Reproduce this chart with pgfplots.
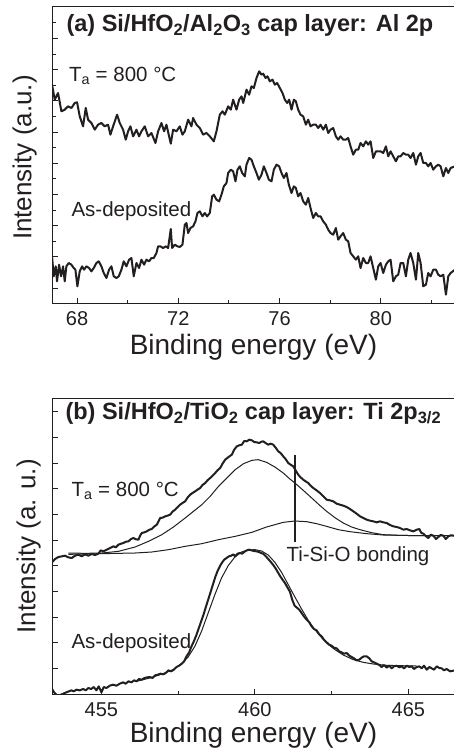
\documentclass[border=0pt]{standalone}
\usepackage{pgfplots}
\usepackage{pgfplotstable}
\pgfplotsset{compat=1.18}
\usepackage{fontspec}
\setmainfont{Liberation Sans}

\definecolor{ink}{HTML}{231F20}

% spectra (zx, zy = position on the 3x crop)
\pgfplotstableread[row sep=\\]{zx zy\\
157 255\\ 165 300\\ 175 280\\ 185 335\\ 195 330\\ 205 320\\ 215 325\\ 225 310\\ 232 308\\ 240 350\\ 250 380\\ 258 325\\ 265 360\\ 275 370\\ 285 390\\ 295 375\\ 305 370\\ 315 380\\ 325 375\\ 332 405\\ 340 380\\ 352 345\\ 360 370\\ 370 390\\ 378 420\\ 385 395\\ 392 380\\ 400 410\\ 410 390\\ 418 410\\ 425 395\\ 435 380\\ 445 410\\ 455 400\\ 467 430\\ 475 395\\ 485 370\\ 493 395\\ 500 375\\ 513 432\\ 520 390\\ 530 395\\ 540 380\\ 548 405\\ 555 395\\ 565 360\\ 575 380\\ 580 355\\ 590 375\\ 600 385\\ 610 405\\ 620 400\\ 630 410\\ 642 425\\ 650 395\\ 660 345\\ 668 335\\ 675 345\\ 685 320\\ 693 330\\ 700 300\\ 710 330\\ 718 300\\ 725 290\\ 730 310\\ 740 270\\ 748 285\\ 755 260\\ 762 265\\ 770 235\\ 778 215\\ 785 225\\ 790 222\\ 797 235\\ 803 230\\ 810 245\\ 818 240\\ 825 255\\ 832 250\\ 840 265\\ 848 280\\ 855 300\\ 862 310\\ 868 300\\ 875 330\\ 882 300\\ 888 305\\ 895 330\\ 902 345\\ 910 350\\ 918 375\\ 925 360\\ 932 380\\ 940 375\\ 948 375\\ 955 385\\ 962 375\\ 970 390\\ 978 375\\ 985 400\\ 992 390\\ 1000 385\\ 1008 410\\ 1015 420\\ 1022 410\\ 1030 420\\ 1038 420\\ 1045 415\\ 1052 440\\ 1060 465\\ 1068 450\\ 1075 450\\ 1082 430\\ 1090 440\\ 1098 425\\ 1105 435\\ 1112 425\\ 1120 475\\ 1128 455\\ 1135 455\\ 1142 455\\ 1150 460\\ 1158 440\\ 1165 470\\ 1172 455\\ 1180 470\\ 1188 485\\ 1195 470\\ 1202 470\\ 1210 460\\ 1218 465\\ 1225 465\\ 1232 475\\ 1240 460\\ 1248 495\\ 1255 470\\ 1262 460\\ 1270 490\\ 1278 490\\ 1285 500\\ 1292 490\\ 1300 510\\ 1308 500\\ 1315 495\\ 1322 500\\ 1330 530\\ 1338 505\\ 1345 520\\ 1352 505\\ 1365 500\\
}\aAnneal

\pgfplotstableread[row sep=\\]{zx zy\\
157 770\\ 162 830\\ 168 800\\ 172 845\\ 178 795\\ 184 830\\ 190 800\\ 195 845\\ 200 800\\ 207 790\\ 215 795\\ 222 805\\ 227 810\\ 233 860\\ 240 815\\ 247 800\\ 253 810\\ 260 800\\ 268 805\\ 275 815\\ 282 805\\ 290 790\\ 297 785\\ 305 800\\ 312 820\\ 320 835\\ 328 810\\ 335 800\\ 342 830\\ 350 835\\ 357 830\\ 365 810\\ 372 785\\ 380 800\\ 388 780\\ 395 775\\ 402 830\\ 410 790\\ 418 805\\ 425 780\\ 433 795\\ 440 780\\ 448 785\\ 455 775\\ 462 775\\ 470 760\\ 475 740\\ 482 740\\ 490 745\\ 498 740\\ 505 745\\ 513 688\\ 517 745\\ 525 735\\ 533 740\\ 540 742\\ 548 735\\ 555 675\\ 560 670\\ 565 700\\ 572 685\\ 580 680\\ 587 665\\ 593 640\\ 600 635\\ 608 650\\ 615 640\\ 622 650\\ 630 640\\ 637 590\\ 642 585\\ 650 600\\ 658 605\\ 665 585\\ 672 560\\ 680 550\\ 685 520\\ 693 510\\ 700 515\\ 707 545\\ 713 510\\ 720 500\\ 727 520\\ 735 530\\ 740 495\\ 748 475\\ 755 480\\ 762 500\\ 770 520\\ 777 540\\ 785 525\\ 792 500\\ 800 520\\ 807 540\\ 815 545\\ 822 510\\ 830 495\\ 838 500\\ 845 520\\ 852 535\\ 860 520\\ 867 555\\ 875 580\\ 882 560\\ 888 565\\ 895 590\\ 902 580\\ 910 605\\ 918 615\\ 925 595\\ 932 625\\ 940 655\\ 948 640\\ 955 650\\ 962 650\\ 970 665\\ 978 675\\ 985 690\\ 992 700\\ 1000 705\\ 1008 685\\ 1015 720\\ 1022 710\\ 1030 700\\ 1038 720\\ 1045 725\\ 1052 760\\ 1060 770\\ 1068 780\\ 1075 770\\ 1082 805\\ 1090 775\\ 1098 790\\ 1105 790\\ 1112 770\\ 1120 805\\ 1128 840\\ 1135 800\\ 1142 790\\ 1150 820\\ 1158 795\\ 1165 785\\ 1172 780\\ 1180 845\\ 1188 830\\ 1195 825\\ 1202 790\\ 1210 790\\ 1218 830\\ 1225 780\\ 1232 760\\ 1240 790\\ 1248 840\\ 1255 760\\ 1262 790\\ 1270 860\\ 1278 855\\ 1285 820\\ 1292 830\\ 1300 810\\ 1308 810\\ 1315 825\\ 1322 830\\ 1330 825\\ 1338 885\\ 1345 830\\ 1352 820\\ 1365 810\\
}\aDepo

\pgfplotstableread[row sep=\\]{zx zy\\
157 548\\ 166 538\\ 176 532\\ 186 530\\ 196 528\\ 206 533\\ 216 535\\ 226 528\\ 236 525\\ 246 530\\ 256 524\\ 266 528\\ 276 523\\ 286 526\\ 296 522\\ 303 512\\ 311 515\\ 321 510\\ 331 505\\ 341 500\\ 348 503\\ 356 495\\ 364 492\\ 371 490\\ 379 486\\ 386 485\\ 394 478\\ 401 475\\ 409 479\\ 416 480\\ 421 468\\ 426 460\\ 434 458\\ 441 455\\ 449 450\\ 456 448\\ 464 440\\ 471 435\\ 476 425\\ 481 415\\ 488 414\\ 496 410\\ 503 408\\ 511 405\\ 518 396\\ 526 390\\ 534 382\\ 541 375\\ 548 370\\ 556 365\\ 563 354\\ 571 345\\ 578 340\\ 586 335\\ 593 330\\ 601 325\\ 608 316\\ 616 310\\ 623 302\\ 631 295\\ 638 288\\ 646 280\\ 653 272\\ 661 265\\ 668 252\\ 676 240\\ 686 232\\ 696 225\\ 703 210\\ 711 200\\ 718 197\\ 726 195\\ 733 184\\ 741 185\\ 748 180\\ 756 182\\ 763 187\\ 770 188\\ 778 190\\ 785 186\\ 790 185\\ 797 190\\ 805 195\\ 812 192\\ 820 195\\ 828 205\\ 835 215\\ 842 220\\ 850 230\\ 857 238\\ 865 250\\ 872 255\\ 880 260\\ 887 272\\ 895 285\\ 902 293\\ 910 300\\ 917 305\\ 925 310\\ 932 318\\ 940 325\\ 950 332\\ 960 340\\ 970 350\\ 980 360\\ 990 362\\ 1000 365\\ 1010 372\\ 1020 375\\ 1030 378\\ 1040 382\\ 1050 388\\ 1060 395\\ 1070 402\\ 1080 410\\ 1090 415\\ 1100 420\\ 1110 423\\ 1120 425\\ 1130 428\\ 1140 425\\ 1150 428\\ 1160 430\\ 1170 436\\ 1180 440\\ 1190 442\\ 1200 445\\ 1210 450\\ 1220 448\\ 1230 452\\ 1240 455\\ 1250 450\\ 1258 448\\ 1264 460\\ 1270 462\\ 1278 470\\ 1285 475\\ 1292 465\\ 1300 468\\ 1308 478\\ 1315 472\\ 1322 466\\ 1330 468\\ 1337 478\\ 1345 470\\ 1352 467\\ 1365 468\\
}\bAnneal

\pgfplotstableread[row sep=\\]{zx zy\\
206 520\\ 256 521\\ 306 520\\ 356 515\\ 406 502\\ 446 485\\ 486 465\\ 521 442\\ 556 415\\ 581 395\\ 606 375\\ 631 350\\ 656 320\\ 681 295\\ 706 270\\ 731 252\\ 756 242\\ 775 240\\ 800 248\\ 825 262\\ 850 280\\ 870 298\\ 885 310\\ 910 332\\ 930 350\\ 955 373\\ 980 395\\ 1005 414\\ 1030 430\\ 1055 442\\ 1080 450\\ 1115 459\\ 1150 465\\ 1200 467\\ 1250 468\\ 1300 468\\ 1365 468\\
}\bMain

\pgfplotstableread[row sep=\\]{zx zy\\
206 524\\ 306 522\\ 406 520\\ 456 517\\ 506 510\\ 556 500\\ 606 492\\ 656 480\\ 706 470\\ 756 458\\ 800 442\\ 850 428\\ 885 424\\ 920 426\\ 950 432\\ 980 440\\ 1015 450\\ 1050 456\\ 1100 462\\ 1150 466\\ 1200 467\\ 1250 468\\ 1365 468\\
}\bTiSiO

\pgfplotstableread[row sep=\\]{zx zy\\
157 928\\ 163 938\\ 170 945\\ 178 948\\ 186 944\\ 195 940\\ 205 936\\ 215 932\\ 222 935\\ 230 930\\ 240 932\\ 250 928\\ 258 932\\ 266 925\\ 274 928\\ 282 922\\ 290 932\\ 297 920\\ 305 938\\ 312 922\\ 320 925\\ 330 918\\ 340 915\\ 350 918\\ 360 912\\ 370 908\\ 378 912\\ 386 905\\ 395 908\\ 403 902\\ 410 905\\ 418 898\\ 426 900\\ 434 895\\ 442 893\\ 450 892\\ 458 895\\ 466 887\\ 474 885\\ 482 882\\ 490 884\\ 498 880\\ 506 872\\ 514 875\\ 522 870\\ 530 862\\ 538 858\\ 546 852\\ 553 845\\ 560 830\\ 568 818\\ 575 800\\ 582 785\\ 589 768\\ 596 748\\ 604 725\\ 611 705\\ 618 682\\ 625 660\\ 632 638\\ 640 612\\ 647 590\\ 654 572\\ 660 560\\ 667 548\\ 673 540\\ 680 535\\ 687 530\\ 694 528\\ 700 524\\ 706 530\\ 713 522\\ 720 520\\ 727 522\\ 734 516\\ 741 512\\ 748 510\\ 755 512\\ 762 514\\ 770 515\\ 777 517\\ 784 520\\ 791 523\\ 798 530\\ 805 538\\ 812 546\\ 820 556\\ 827 566\\ 834 578\\ 841 590\\ 848 600\\ 855 610\\ 862 622\\ 870 636\\ 877 660\\ 884 678\\ 891 684\\ 898 690\\ 905 700\\ 912 710\\ 920 720\\ 928 728\\ 935 740\\ 942 748\\ 950 752\\ 958 764\\ 965 770\\ 972 780\\ 980 788\\ 988 795\\ 995 798\\ 1002 804\\ 1010 806\\ 1018 815\\ 1025 818\\ 1032 822\\ 1040 820\\ 1048 828\\ 1055 832\\ 1062 836\\ 1070 842\\ 1078 840\\ 1085 834\\ 1092 830\\ 1100 830\\ 1108 836\\ 1115 845\\ 1122 848\\ 1130 852\\ 1138 856\\ 1145 862\\ 1152 856\\ 1160 864\\ 1168 858\\ 1175 866\\ 1182 860\\ 1190 858\\ 1198 863\\ 1205 860\\ 1212 866\\ 1220 858\\ 1228 862\\ 1235 860\\ 1242 868\\ 1250 862\\ 1258 860\\ 1265 866\\ 1272 858\\ 1280 870\\ 1288 862\\ 1295 866\\ 1302 870\\ 1310 860\\ 1318 865\\ 1325 866\\ 1332 872\\ 1340 868\\ 1350 875\\ 1365 872\\
}\bDepo

\pgfplotstableread[row sep=\\]{zx zy\\
410 905\\ 450 895\\ 490 882\\ 520 870\\ 545 852\\ 565 832\\ 585 800\\ 605 755\\ 625 700\\ 645 645\\ 665 595\\ 685 558\\ 705 532\\ 725 517\\ 745 511\\ 765 510\\ 785 514\\ 805 526\\ 825 548\\ 845 578\\ 865 615\\ 885 652\\ 905 688\\ 925 722\\ 945 750\\ 965 774\\ 985 794\\ 1005 810\\ 1030 826\\ 1060 840\\ 1090 848\\ 1120 853\\ 1160 857\\ 1200 858\\ 1250 859\\
}\bDepoFit

\pgfplotsset{
  panel/.style={
    scale only axis,
    width=403pt,
    ymin=0,
    axis line style={ink, line width=1pt},
    tick style={ink, line width=0.9pt},
    tick align=inside,
    xtick pos=bottom, ytick pos=left,
    major tick length=5.5pt, minor tick length=3.5pt,
    yticklabels={},
    /pgf/number format/assume math mode=true,
    xticklabel style={font=\fontsize{20}{24}\selectfont, text=ink, anchor=base, yshift=-22.5pt},
    ylabel style={font=\fontsize{26}{30}\selectfont, text=ink},
    xlabel style={font=\fontsize{28}{32}\selectfont, text=ink},
    xlabel={Binding energy (eV)},
    clip=true,
  },
  spec/.style={ink, line width=2pt, line join=round},
  fit/.style={ink, line width=1pt},
}

\newcommand{\txt}{\fontsize{20.5}{24}\selectfont}
\newcommand{\ttl}{\bfseries\fontsize{23.5}{28}\selectfont}

\begin{document}
\begin{tikzpicture}
\path[use as bounding box] (0,0) rectangle (453pt,-751pt);

% ---- (a) Al 2p ----
\begin{axis}[panel,
  at={(52pt,-303pt)}, anchor=south west,
  height=296.7pt, ymax=296.7,
  xmin=67.01, xmax=82.93,
  xtick={68,72,76,80}, minor xtick={70,74,78,82},
  ytick={15,46.2,...,266}, minor ytick={30.6,61.8,...,282},
  xlabel style={at={(axis description cs:0.5,0)}, anchor=base, yshift=-51pt},
  ylabel={Intensity (a.u.)},
  ylabel style={at={(axis description cs:-0.0514,0.49)}, anchor=base},
]
\addplot[spec] table[x expr=68+(\thisrow{zx}-232)/75.9, y expr=(910-\thisrow{zy})/3] {\aAnneal};
\addplot[spec] table[x expr=68+(\thisrow{zx}-232)/75.9, y expr=(910-\thisrow{zy})/3] {\aDepo};
\node[anchor=base west, text=ink, font=\ttl, xshift=11pt, yshift=-25pt] at (axis description cs:0,1)
  {(a) Si/HfO\textsubscript{2}/Al\textsubscript{2}O\textsubscript{3} cap layer: Al 2p};
\node[anchor=base west, text=ink, font=\txt, xshift=13.5pt, yshift=-75pt] at (axis description cs:0,1)
  {T\textsubscript{a} = 800 °C};
\node[anchor=base west, text=ink, font=\txt, xshift=16pt, yshift=-210pt] at (axis description cs:0,1)
  {As-deposited};
\end{axis}

% ---- (b) Ti 2p3/2 ----
\begin{axis}[panel,
  at={(52pt,-694pt)}, anchor=south west,
  height=295.3pt, ymax=295.3,
  xmin=453.39, xmax=466.52,
  xtick={455,460,465}, minor xtick={457.5,462.5},
  ytick={25.4,51.1,...,284},
  xlabel style={at={(axis description cs:0.5,0)}, anchor=base, yshift=-48pt},
  ylabel={Intensity (a. u.)},
  ylabel style={at={(axis description cs:-0.0414,0.5)}, anchor=base},
]
\addplot[fit] table[x expr=455+(\thisrow{zx}-305)/92, y expr=(943-\thisrow{zy})/3] {\bMain};
\addplot[fit] table[x expr=455+(\thisrow{zx}-305)/92, y expr=(943-\thisrow{zy})/3] {\bTiSiO};
\addplot[fit] table[x expr=455+(\thisrow{zx}-305)/92, y expr=(943-\thisrow{zy})/3] {\bDepoFit};
\addplot[spec] table[x expr=455+(\thisrow{zx}-305)/92, y expr=(943-\thisrow{zy})/3] {\bAnneal};
\addplot[spec] table[x expr=455+(\thisrow{zx}-305)/92, y expr=(943-\thisrow{zy})/3] {\bDepo};
\addplot[ink, line width=1.8pt] coordinates {(461.30,152) (461.30,239.3)};
\node[anchor=base west, text=ink, font=\ttl, xshift=10pt, yshift=-21pt] at (axis description cs:0,1)
  {(b) Si/HfO\textsubscript{2}/TiO\textsubscript{2} cap layer: Ti 2p\textsubscript{3/2}};
\node[anchor=base west, text=ink, font=\txt, xshift=16pt, yshift=-98pt] at (axis description cs:0,1)
  {T\textsubscript{a} = 800 °C};
\node[anchor=base west, text=ink, font=\txt, xshift=16pt, yshift=-250pt] at (axis description cs:0,1)
  {As-deposited};
\node[anchor=base west, text=ink, font=\txt, xshift=231pt, yshift=-163pt] at (axis description cs:0,1)
  {Ti-Si-O bonding};
\end{axis}
\end{tikzpicture}
\end{document}
